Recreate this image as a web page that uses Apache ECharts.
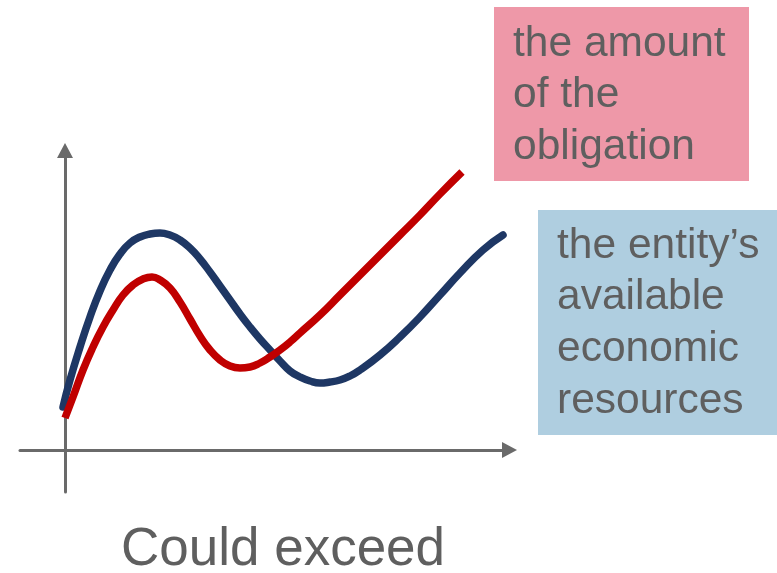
<!DOCTYPE html>
<html>
<head>
<meta charset="utf-8">
<script src="https://cdn.jsdelivr.net/npm/echarts@6/dist/echarts.min.js"></script>
<style>html,body{margin:0;padding:0;background:#fff}#c{width:777px;height:573px}</style>
</head>
<body>
<div id="c"></div>
<script>
// Curve values (x, y) in chart units, origin at the axes crossing
const resources = [[-2,43],[5,70],[15,103],[25,133],[35,159],[45,180],[55,196],[65,207],[75,213],[85,216],[95,217],[105,215],[115,210],[125,202],[135,191],[145,178],[155,164],[165,150],[175,136],[185,123],[195,111],[205,100],[215,89],[225,79],[235,73],[245,69],[255,67],[265,68],[275,70],[285,74],[295,80],[315,95],[335,113],[355,133],[375,155],[395,177],[418,200],[438,215]];
const obligation = [[0,32],[8,53],[18,80],[28,103],[38,123],[48,140],[58,155],[68,165],[78,171],[87,173],[95,170],[105,162],[115,148],[125,131],[135,114],[145,100],[155,90],[165,84],[175,82],[185,83],[195,87],[205,93],[215,100],[225,108],[235,117],[255,135],[275,155],[295,175],[315,195],[335,215],[355,235],[375,256],[397,278]];
const titleText = 'Could exceed';
const obligationLabel = 'the amount\nof the\nobligation';
const resourcesLabel = 'the entity\u2019s\navailable\neconomic\nresources';

const chart = echarts.init(document.getElementById('c'), null, {renderer: 'canvas'});
const axisColor = '#6a6a6a';
const txtColor = '#5f5f5f';
const font = 'Liberation Sans, Arial, sans-serif';
chart.setOption({
  animation: false,
  backgroundColor: '#ffffff',
  grid: {left: 20, right: 267.5, top: 150.5, bottom: 81},
  xAxis: {
    type: 'value', min: -45, max: 444.5,
    axisLine: {show: true, onZero: true, symbol: ['none', 'triangle'], symbolSize: [16, 15], lineStyle: {color: axisColor, width: 3}},
    axisTick: {show: false}, axisLabel: {show: false}, splitLine: {show: false}
  },
  yAxis: {
    type: 'value', min: -42, max: 299.5,
    axisLine: {show: true, onZero: true, symbol: ['none', 'triangle'], symbolSize: [16, 15], lineStyle: {color: axisColor, width: 3}},
    axisTick: {show: false}, axisLabel: {show: false}, splitLine: {show: false}
  },
  series: [
    {type: 'line', data: resources, smooth: 0.5, symbol: 'none', lineStyle: {color: '#1e3764', width: 7.5, cap: 'round', join: 'round'}, z: 3},
    {type: 'line', data: obligation, smooth: 0.5, symbol: 'none', lineStyle: {color: '#c00000', width: 7.5, cap: 'butt', join: 'round'}, z: 4}
  ],
  graphic: [
    {type: 'rect', shape: {x: 494, y: 7, width: 255, height: 174}, style: {fill: '#ee98a8'}, z: 10},
    {type: 'text', x: 513, y: 18.5, style: {text: obligationLabel, font: '42.5px ' + font, lineHeight: 51.5, fill: txtColor, align: 'left', verticalAlign: 'top'}, z: 11},
    {type: 'rect', shape: {x: 538, y: 210, width: 239, height: 225}, style: {fill: '#afcee0'}, z: 10},
    {type: 'text', x: 557, y: 220, style: {text: resourcesLabel, font: '42.5px ' + font, lineHeight: 51.8, fill: txtColor, align: 'left', verticalAlign: 'top'}, z: 11},
    {type: 'text', x: 283, y: 550.6, style: {text: titleText, font: '53px ' + font, fill: txtColor, align: 'center', verticalAlign: 'middle'}, z: 11}
  ]
});
</script>
</body>
</html>
